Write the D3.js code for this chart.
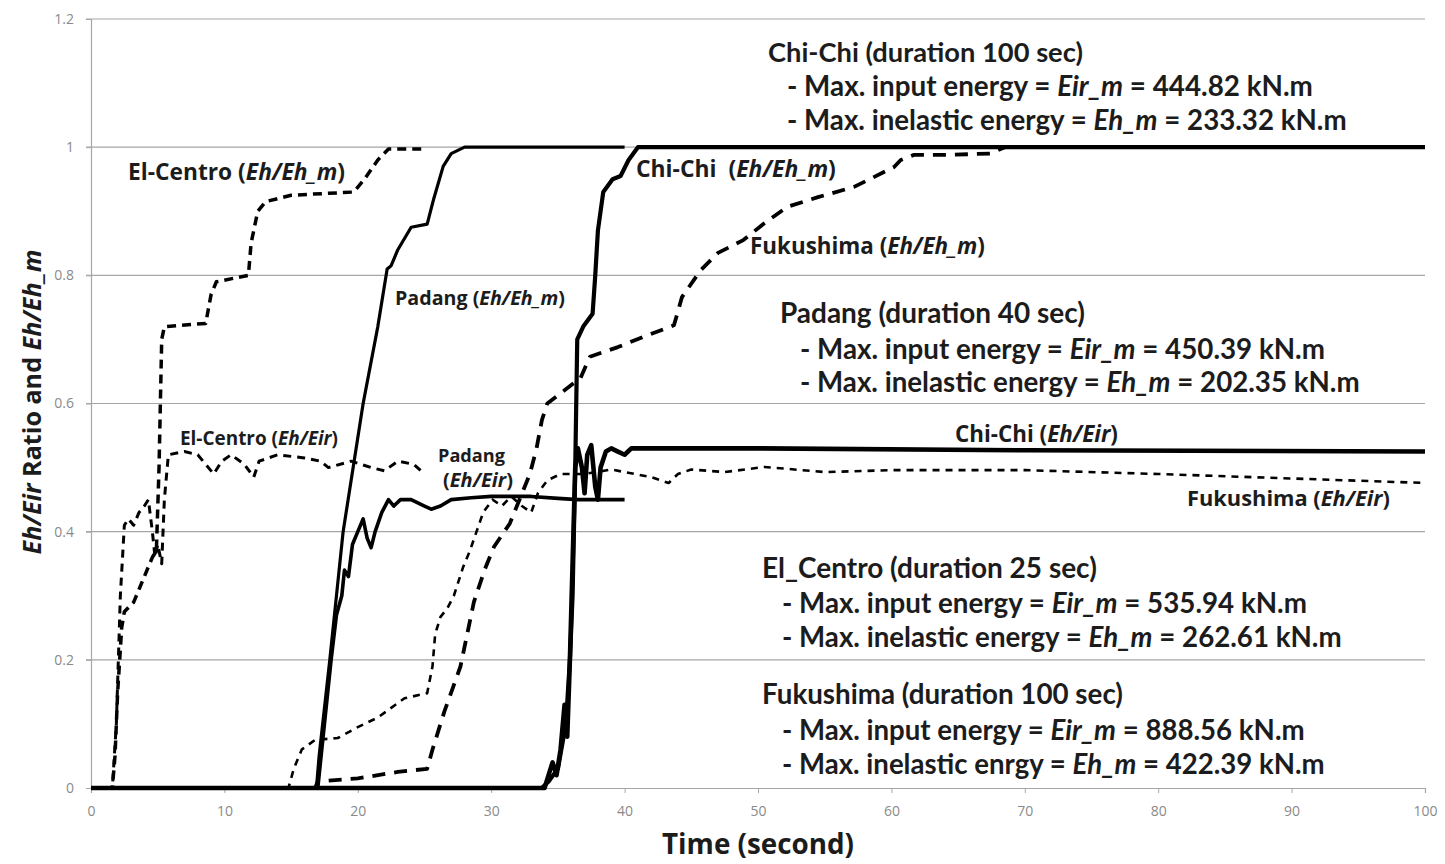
<!DOCTYPE html>
<html><head><meta charset="utf-8">
<script src="https://cdn.jsdelivr.net/npm/d3@7"></script>
<style>
body{margin:0;background:#fff;}
svg{display:block;font-family:Lato,"Open Sans",sans-serif;}
</style></head><body>
<svg id="c" width="1445" height="864"></svg>
<script>
// ---------- data ----------
const xTicks = [0,10,20,30,40,50,60,70,80,90,100];
const yTicks = [0,0.2,0.4,0.6,0.8,1,1.2];
const yTickLabels = ["0","0.2","0.4","0.6","0.8","1","1.2"];

const elCentroEhm = [[0,0],[1.6,0],[1.8,0.05],[2.0,0.15],[2.3,0.25],[2.5,0.275],[3.2,0.29],[3.8,0.32],[4.6,0.36],[4.9,0.37],[5.1,0.5],[5.3,0.7],[5.5,0.72],[8.6,0.725],[9.0,0.77],[9.4,0.79],[11.8,0.80],[12.0,0.85],[12.5,0.9],[13.1,0.915],[15,0.925],[19.7,0.93],[20.5,0.95],[21.5,0.98],[22.3,0.997],[25,0.997]];
const elCentroEir = [[0,0],[1.6,0],[1.9,0.1],[2.2,0.3],[2.5,0.41],[2.8,0.42],[3.2,0.41],[3.6,0.43],[4.0,0.44],[4.3,0.45],[4.6,0.40],[4.8,0.36],[5.0,0.38],[5.3,0.35],[5.5,0.45],[5.8,0.52],[7,0.525],[8,0.52],[8.6,0.505],[9.2,0.49],[9.8,0.51],[10.5,0.52],[11.5,0.505],[12.2,0.485],[12.6,0.51],[14,0.52],[16,0.515],[17.2,0.51],[17.8,0.50],[19.5,0.51],[21,0.50],[22,0.495],[23,0.51],[24.2,0.505],[25,0.49]];
const padangEhm = [[0,0],[16.9,0],[17.1,0.05],[17.9,0.2],[18.9,0.4],[20.4,0.6],[21.5,0.72],[22.2,0.81],[22.5,0.815],[23,0.84],[24,0.875],[25.2,0.88],[25.7,0.92],[26.4,0.97],[27,0.99],[28,1.0],[40,1.0]];
const padangEir = [[0,0],[17.0,0],[17.5,0.1],[18.0,0.2],[18.4,0.27],[18.8,0.30],[19.0,0.34],[19.3,0.33],[19.6,0.38],[20.0,0.40],[20.4,0.42],[20.7,0.39],[21.0,0.375],[21.3,0.40],[21.8,0.43],[22.3,0.45],[22.7,0.44],[23.2,0.45],[24,0.45],[25,0.44],[25.5,0.435],[26.2,0.44],[27,0.45],[28.5,0.453],[30,0.455],[33,0.455],[35,0.452],[36.5,0.45],[40,0.45]];
const chiChiEhm = [[0,0],[33.8,0],[34.3,0.01],[35,0.03],[35.6,0.1],[35.9,0.2],[36.1,0.3],[36.3,0.5],[36.45,0.7],[36.9,0.72],[37.6,0.74],[37.8,0.80],[38.0,0.87],[38.4,0.93],[39.1,0.95],[39.7,0.955],[40.3,0.98],[41,1.0],[100,1.0]];
const chiChiEir = [[0,0],[34,0],[34.3,0.02],[34.6,0.04],[34.9,0.02],[35.2,0.06],[35.5,0.13],[35.7,0.08],[35.9,0.2],[36.1,0.35],[36.3,0.5],[36.5,0.53],[36.8,0.5],[37.0,0.46],[37.2,0.52],[37.5,0.535],[37.8,0.47],[38.0,0.45],[38.2,0.50],[38.6,0.525],[39,0.53],[39.5,0.525],[40,0.52],[40.5,0.53],[41.5,0.53],[50,0.53],[70,0.527],[100,0.525]];
const fukushimaEhm = [[0,0],[16.8,0],[17.0,0.01],[20,0.015],[23,0.025],[25.2,0.03],[25.6,0.06],[26.5,0.12],[27.7,0.19],[28.7,0.29],[29.5,0.34],[30.2,0.376],[31.4,0.413],[32.9,0.49],[33.4,0.53],[33.8,0.574],[34.2,0.60],[35.2,0.616],[36.7,0.64],[37.4,0.673],[39.5,0.688],[41.4,0.704],[43.7,0.722],[44.3,0.766],[45.7,0.808],[47,0.835],[48.9,0.855],[50.4,0.88],[52.2,0.907],[54.5,0.922],[57.2,0.938],[60.2,0.969],[60.7,0.98],[61.7,0.988],[64.2,0.988],[67.4,0.99],[68.5,1.0],[100,1.0]];
const fukushimaEir = [[0,0],[14.8,0],[15.2,0.03],[15.8,0.06],[16.8,0.075],[18.5,0.078],[20,0.095],[21.5,0.11],[23.5,0.14],[25.2,0.148],[25.6,0.19],[25.8,0.24],[26.2,0.267],[26.7,0.28],[27.2,0.30],[27.9,0.345],[28.4,0.37],[28.9,0.40],[29.4,0.43],[30.1,0.45],[30.8,0.44],[31.5,0.455],[32.3,0.44],[33,0.43],[33.5,0.46],[34.2,0.48],[35.2,0.49],[37,0.49],[39,0.497],[42,0.485],[43.3,0.476],[44,0.49],[45,0.497],[47.5,0.493],[50.5,0.501],[55,0.493],[60,0.496],[70,0.496],[80,0.49],[90,0.483],[100,0.476]];

// ---------- layout ----------
const svg = d3.select("#c");
const L=91, R=1425, T=19, B=788;
const x = d3.scaleLinear().domain([0,100]).range([L,R]);
const y = d3.scaleLinear().domain([0,1.2]).range([B,T]);

// gridlines
svg.append("g").selectAll("line").data(yTicks.filter(d=>d>0)).join("line")
  .attr("x1",L-5).attr("x2",R).attr("y1",d=>y(d)).attr("y2",d=>y(d))
  .attr("stroke","#a6a6a6").attr("stroke-width",1.2);

// axes
const xAxis = d3.axisBottom(x).tickValues(xTicks).tickSize(5).tickPadding(13).tickFormat(d3.format("d"));
const gx = svg.append("g").attr("transform",`translate(0,${B})`).call(xAxis);
gx.select(".domain").attr("stroke","#a6a6a6").attr("stroke-width",1.2);
gx.selectAll(".tick line").attr("stroke","#a6a6a6");
gx.selectAll("text").attr("fill","#8a8a8a").attr("font-size",14).attr("font-family","'Open Sans',sans-serif");

const yAxis = d3.axisLeft(y).tickValues(yTicks).tickSize(5).tickPadding(12).tickFormat((d,i)=>yTickLabels[i]);
const gy = svg.append("g").attr("transform",`translate(${L},0)`).call(yAxis);
gy.select(".domain").attr("stroke","#a6a6a6").attr("stroke-width",1.2);
gy.selectAll(".tick line").attr("stroke","#a6a6a6");
gy.selectAll("text").attr("fill","#8a8a8a").attr("font-size",14).attr("font-family","'Open Sans',sans-serif");

// series
const line = d3.line().x(d=>x(d[0])).y(d=>y(d[1]));
const series = [
  {d:fukushimaEir, w:2.6, dash:"7,6"},
  {d:fukushimaEhm, w:3.8, dash:"13,9"},
  {d:elCentroEir, w:3, dash:"8,6"},
  {d:elCentroEhm, w:3.5, dash:"9,6"},
  {d:padangEhm, w:3.2, dash:null},
  {d:padangEir, w:3.6, dash:null},
  {d:chiChiEhm, w:4.2, dash:null},
  {d:chiChiEir, w:4.6, dash:null},
];
svg.append("g").selectAll("path").data(series).join("path")
  .attr("d",s=>line(s.d)).attr("fill","none").attr("stroke","#000")
  .attr("stroke-width",s=>s.w).attr("stroke-dasharray",s=>s.dash)
  .attr("stroke-linejoin","round");

// rich text helper: parts = [[text, italic], ...]; fitted to a target width
function rich(g, px, py, parts, width, family, anchor){
  const t = g.append("text").attr("x",px).attr("y",py).attr("font-size",20)
    .attr("font-family",family).attr("font-weight","bold").attr("fill","#1c1c1c")
    .attr("text-anchor",anchor||"start").attr("xml:space","preserve");
  parts.forEach(p=>{ t.append("tspan").text(p[0]).attr("font-style",p[1]?"italic":"normal"); });
  const len = t.node().getComputedTextLength();
  if(len>0) t.attr("font-size", 20*width/len);
  return t;
}
const ann = svg.append("g");
const F1 = "Lato, sans-serif";
const blocks = [
  {x:768,y:62, w:315, t:[["Chi-Chi (duration 100 sec)",0]]},
  {x:787,y:96, w:526, t:[["- Max. input energy = ",0],["Eir_m",1],[" = 444.82 kN.m",0]]},
  {x:787,y:130,w:560, t:[["- Max. inelastic energy = ",0],["Eh_m",1],[" = 233.32 kN.m",0]]},
  {x:780,y:323,w:305, t:[["Padang (duration 40 sec)",0]]},
  {x:800,y:359,w:525, t:[["- Max. input energy = ",0],["Eir_m",1],[" = 450.39 kN.m",0]]},
  {x:800,y:392,w:560, t:[["- Max. inelastic energy = ",0],["Eh_m",1],[" = 202.35 kN.m",0]]},
  {x:762,y:578,w:335, t:[["El_Centro (duration 25 sec)",0]]},
  {x:782,y:613,w:525, t:[["- Max. input energy = ",0],["Eir_m",1],[" = 535.94 kN.m",0]]},
  {x:782,y:647,w:560, t:[["- Max. inelastic energy = ",0],["Eh_m",1],[" = 262.61 kN.m",0]]},
  {x:762,y:704,w:361, t:[["Fukushima (duration 100 sec)",0]]},
  {x:782,y:740,w:523, t:[["- Max. input energy = ",0],["Eir_m",1],[" = 888.56 kN.m",0]]},
  {x:782,y:774,w:543, t:[["- Max. inelastic enrgy = ",0],["Eh_m",1],[" = 422.39 kN.m",0]]},
];
blocks.forEach(b=>rich(ann,b.x,b.y,b.t,b.w,F1));

const F2 = "'Open Sans', sans-serif";
const labels = [
  {x:128,y:180,w:217,t:[["El-Centro (",0],["Eh/Eh_m",1],[")",0]]},
  {x:395,y:305,w:170,t:[["Padang (",0],["Eh/Eh_m",1],[")",0]]},
  {x:636,y:177,w:200,t:[["Chi-Chi  (",0],["Eh/Eh_m",1],[")",0]]},
  {x:750,y:254,w:235,t:[["Fukushima (",0],["Eh/Eh_m",1],[")",0]]},
  {x:180,y:445,w:158,t:[["El-Centro (",0],["Eh/Eir",1],[")",0]]},
  {x:438,y:462,w:67, t:[["Padang",0]]},
  {x:443,y:487,w:70, t:[["(",0],["Eh/Eir",1],[")",0]]},
  {x:955,y:442,w:163,t:[["Chi-Chi (",0],["Eh/Eir",1],[")",0]]},
  {x:1187,y:506,w:203,t:[["Fukushima (",0],["Eh/Eir",1],[")",0]]},
];
labels.forEach(b=>rich(ann,b.x,b.y,b.t,b.w,F2));

// axis titles
rich(svg,758,854,[["Time (second)",0]],192,F2,"middle");
const yt = svg.append("g").attr("transform","translate(41,402) rotate(-90)");
rich(yt,0,0,[["Eh/Eir",1],[" Ratio and ",0],["Eh/Eh_m",1]],305,F2,"middle");
</script>
</body></html>
